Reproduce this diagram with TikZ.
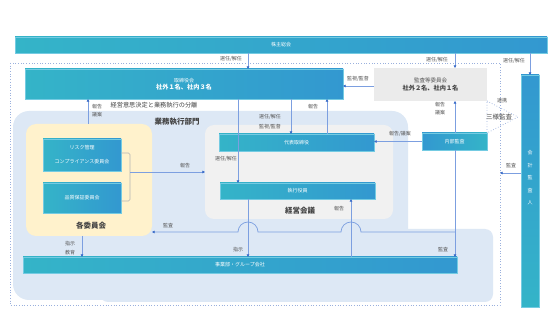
\documentclass[tikz,border=0pt]{standalone}
\usepackage{fontspec}
\setmainfont{Noto Sans CJK JP}
\usetikzlibrary{arrows.meta}
\definecolor{teal1}{HTML}{34B4C8}
\definecolor{blue1}{HTML}{3398D0}
\definecolor{barline}{HTML}{74CBE2}
\definecolor{lblue}{HTML}{DDE8F5}
\definecolor{ygold}{HTML}{FFF2CC}
\definecolor{gregion}{HTML}{F1F1F1}
\definecolor{kgray}{HTML}{EBEBEB}
\definecolor{arr}{HTML}{7C9FE0}
\definecolor{arrhead}{HTML}{3A6CC8}
\definecolor{dotc}{HTML}{9AB0DD}
\definecolor{lbl}{HTML}{555555}
\definecolor{ttl}{HTML}{444444}
\definecolor{brk}{HTML}{B4B4B4}
\begin{document}
\begin{tikzpicture}[x=1pt,y=-1pt,
  every node/.style={inner sep=0pt,outer sep=0pt},
  bar/.style={draw=barline,line width=0.4pt,left color=teal1,right color=blue1,text=white,font=\fontsize{5}{6}\selectfont,align=center},
  region/.style={rounded corners=#1},
  lab/.style={font=\fontsize{5}{6}\selectfont,text=lbl,align=center},
  ttlfont/.style={font=\fontsize{7.5}{8}\selectfont\bfseries,text=ttl},
  a/.style={draw=arr,line width=0.7pt,-{Triangle[length=2.6pt,width=2.6pt,color=arrhead]}},
  dots/.style={draw=dotc,line width=0.7pt,dotted}
]
\useasboundingbox (0,0) rectangle (560,315);
\fill[white] (0,0) rectangle (560,315);

% outer dotted frame
\draw[dots] (10,63) rectangle (500,305);

% regions
\fill[lblue,rounded corners=16pt] (13,111) rectangle (408,300);
\fill[lblue,rounded corners=8pt] (100,229) rectangle (493,302);
\node[region=10pt,fill=ygold,minimum width=126pt,minimum height=112pt] (iin) at (89,180) {};
\node[region=9pt,fill=gregion,minimum width=188pt,minimum height=94pt] (keiei) at (299,172) {};

% main boxes
\node[bar,minimum width=532pt,minimum height=16pt] (soukai) at (281,45) {株主総会};
\node[bar,minimum width=318pt,minimum height=30pt] (tori) at (184,84)
  {取締役会\\[1.5pt]{\fontsize{6.2}{7}\selectfont\bfseries 社外１名、社内３名}};
\node[fill=kgray,minimum width=113pt,minimum height=33pt,align=center,text=lbl,font=\fontsize{5.5}{6.5}\selectfont] (kansa) at (430.5,84.5)
  {監査等委員会\\[1.5pt]{\fontsize{6.2}{7}\selectfont\bfseries\color{ttl} 社外２名、社内１名}};
\node[draw=barline,line width=0.4pt,top color=blue1,bottom color=teal1,minimum width=18pt,minimum height=232pt] (kaikei) at (530,191) {};
\node[font=\fontsize{5}{12.5}\selectfont,text=white,align=center] at ([yshift=13pt]kaikei.center) {会\\計\\監\\査\\人};

\node[bar,minimum width=78pt,minimum height=32pt,font=\fontsize{5}{14}\selectfont] (risk) at (82,155) {リスク管理\\コンプライアンス委員会};
\node[bar,minimum width=78pt,minimum height=30pt] (hin) at (82,198) {品質保証委員会};
\node[bar,minimum width=155pt,minimum height=17pt] (daihyo) at (296.5,142.5) {代表取締役};
\node[bar,minimum width=155pt,minimum height=16pt] (shikko) at (297.5,191) {執行役員};
\node[draw=barline,line width=0.4pt,left color=blue1,right color=teal1,text=white,font=\fontsize{5}{6}\selectfont,minimum width=65pt,minimum height=17pt] (naibu) at (454.5,141.5) {内部監査};
\node[bar,minimum width=434pt,minimum height=16pt] (jigyo) at (240,265) {事業部・グループ会社};

% titles
\node[ttlfont] (t1) at (177,122) {業務執行部門};
\node[ttlfont] (t2) at (91,226) {各委員会};
\node[ttlfont] (t3) at (300,211) {経営会議};
\node[font=\fontsize{6.2}{7}\selectfont,text=ttl] (t4) at (154,105) {経営意思決定と業務執行の分離};

% x positions
\coordinate (x82) at (82,0);
\coordinate (x88) at (88,0);
\coordinate (x238) at (238,0);
\coordinate (x248) at (248,0);
\coordinate (x291) at (291,0);
\coordinate (x327) at (327,0);
\coordinate (x351) at (351,0);
\coordinate (x455) at (455,0);
\coordinate (x530) at (530,0);
\coordinate (y86) at (0,86);
\coordinate (y173) at (0,173);

% shareholders
\draw[a] (x248 |- soukai.south) -- (x248 |- tori.north);
\node[lab] at (231,59) {選任/解任};
\draw[a] (x455 |- soukai.south) -- (x455 |- kansa.north);
\node[lab] at (437,60) {選任/解任};
\draw[a] (x530 |- soukai.south) -- (kaikei.north);
\node[lab] at (514,61) {選任/解任};

% audit committee -> board
\draw[a] (kansa.west |- y86) -- (tori.east |- y86);
\node[lab] at (358,79) {監視/監督};

% committees -> board
\draw[a] (x88 |- iin.north) -- (x88 |- tori.south);
\node[lab,font=\fontsize{5}{8}\selectfont] at (97,111) {報告\\議案};

% board <-> representative
\draw[a] (x291 |- tori.south) -- (x291 |- daihyo.north);
\node[lab,font=\fontsize{5}{10}\selectfont] at (270,122) {選任/解任\\監視/監督};
\draw[a] (x327 |- daihyo.north) -- (x327 |- tori.south);
\node[lab] at (313,107) {報告};

% board -> executive officers
\draw[a] (x238 |- tori.south) -- (x238 |- shikko.north);
\node[lab] at (226,159) {選任/解任};

% committees bracket -> management meeting
\coordinate (bk) at (130,172);
\draw[brk,line width=0.7pt,rounded corners=1.5pt] ([yshift=2pt]risk.east) -- ++(9,0) |- ([yshift=-3pt]hin.east);
\draw[a] (bk) -- (bk -| keiei.west);
\node[lab] at (185,166) {報告};

% internal audit
\draw[a] (naibu.west) -- (daihyo.east |- naibu.west);
\node[lab] at (400,134) {報告/議案};
\draw[a] (x455 |- naibu.north) -- (x455 |- kansa.south);
\node[lab,font=\fontsize{5}{8}\selectfont] at (440,109) {報告\\議案};
\draw[a] (x455 |- naibu.south) -- (x455 |- jigyo.north);
\node[lab] at (443,250) {監査};
\coordinate (k1) at (455,232);
\draw[a] (k1) -- (361,232) arc[start angle=0,end angle=-180,radius=10] -- (258,232) arc[start angle=0,end angle=-180,radius=10] -- (iin.east |- k1);
\node[lab] at (168,226) {監査};

% instructions / reports with business units
\draw[a] (x82 |- iin.south) -- (x82 |- jigyo.north);
\node[lab,font=\fontsize{5}{8.5}\selectfont] at (70,248) {指示\\教育};
\draw[a] (x248 |- shikko.south) -- (x248 |- jigyo.north);
\node[lab] at (238,250) {指示};
\draw[a] (x351 |- jigyo.north) -- (x351 |- shikko.south);
\node[lab] at (339,209) {報告};

% accounting auditor
\coordinate (fr) at (500,173);
\draw[a] (kaikei.west |- y173) -- (fr);
\node[lab] at (511,166) {監査};

% three-way audit
\coordinate (tri) at (518,117);
\draw[dots] (kansa.south east) -- (tri) -- (naibu.north east) -- cycle;
\node[font=\fontsize{6.5}{7}\selectfont,text=ttl] (sanyo) at (499,117) {三様監査};
\node[lab] at (502,101) {連携};
\end{tikzpicture}
\end{document}
